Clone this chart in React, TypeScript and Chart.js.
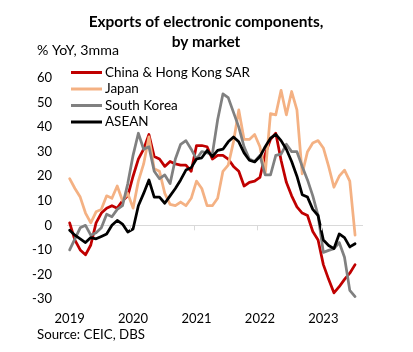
import React, { useEffect, useRef } from 'react';
import { Chart, registerables } from 'chart.js';

Chart.register(...registerables);

// ---------- data ----------
const years = ['2019', '2020', '2021', '2022', '2023'];
const monthNames = ['Jan', 'Feb', 'Mar', 'Apr', 'May', 'Jun', 'Jul', 'Aug', 'Sep', 'Oct', 'Nov', 'Dec'];
// Jan 2019 – Aug 2023 (Aug 2023 slot has no data)
const categories: string[] = [];
years.forEach((y) => monthNames.forEach((m) => categories.push(`${m} ${y}`)));
const axisCategories = categories.slice(0, 56);

const chinaHK = [
  1, -6, -10, -12, -8, 1, 5, 7, 8, 7, 10, 12,
  20, 27, 31, 37, 28, 27, 24, 26, 25, 24.5, 24.5, 22,
  32.5, 32.5, 32, 27, 28.5, 28.5, 27, 24, 22, 16, 17.5, 18,
  19.5, 29, 35, 37.5, 26.5, 17.5, 12, 7.5, 5, 4, -2.5, -6,
  -16, -22, -27.5, -25, -22, -19.5, -16,
];
const japan = [
  19, 15, 11.5, 5, 1, 5.5, 6.5, 12, 11, 16, 10, 13,
  7, 18, 25, 36, 23, 22, 13, 8.5, 8, 9.5, 8, 11,
  18, 15, 8, 8, 11, 22, 24.5, 34, 47, 35, 35, 37,
  32, 21, 45.5, 45, 55, 45, 54.5, 47, 21, 30, 33.5, 34.5,
  31.5, 24, 15.5, 20, 22.5, 18, -4,
];
const southKorea = [
  -10, -5.5, -1, 0, -4, -3, -1, 4.5, 3.5, 6.5, 8, 17,
  28.5, 37.5, 31, 32, 22, 19, 20.5, 17, 27, 33, 34.5, 31,
  27, 30, 29.5, 29, 43, 53.5, 52, 46, 40, 32, 27, 26,
  28.5, 20.5, 20.5, 28.5, 29, 33, 30, 30, 24, 18.5, 12, 4,
  -11, -10.2, -9.5, -7, -13, -26.5, -29,
];
const asean = [
  -2, -4, -5.5, -7, -5, -5.5, -4.5, -3.5, 0, 2, 0.5, -2.7,
  -1.5, 8, 13, 18.5, 11.5, 11.5, 9, 12, 15, 18.5, 22.5, 23.5,
  27, 27.5, 30.5, 28, 30.5, 31, 34, 36, 34, 29.5, 26.5, 25.8,
  28, 32, 35.5, 37, 34.5, 31, 26, 20, 12.5, 11.5, 6.5, 4,
  -6, -8.2, -9.5, -3.5, -5, -8.8, -7.5,
];

const seriesNames = ['China & Hong Kong SAR', 'Japan', 'South Korea', 'ASEAN'];
const seriesValues = [chinaHK, japan, southKorea, asean];

const titleLines = ['Exports of electronic components,', 'by market'];
const unitLabel = '% YoY, 3mma';
const sourceLabel = 'Source: CEIC, DBS';

// ---------- styles ----------
const FONT = 'Lato, "Noto Sans", sans-serif';
const COLORS = ['#C00000', '#F4B183', '#808080', '#000000'];
const LINE_W = 2.75;

function fitSize(ctx: CanvasRenderingContext2D, text: string, weight: string, target: number) {
  ctx.font = `${weight} 100px ${FONT}`;
  const w = ctx.measureText(text).width;
  return (100 * target) / w;
}

const decor = {
  id: 'decor',
  afterDraw(chart: any) {
    const ctx: CanvasRenderingContext2D = chart.ctx;
    const xs = chart.scales.x;
    const ys = chart.scales.y;
    ctx.save();

    // small tick marks on zero line at year boundaries
    const zeroY = ys.getPixelForValue(0);
    ctx.strokeStyle = '#D9D9D9';
    ctx.lineWidth = 1;
    for (let i = 12; i < axisCategories.length; i += 12) {
      const bx = Math.round((xs.getPixelForValue(i - 1) + xs.getPixelForValue(i)) / 2) + 0.5;
      ctx.beginPath();
      ctx.moveTo(bx, zeroY);
      ctx.lineTo(bx, zeroY + 5);
      ctx.stroke();
    }

    ctx.fillStyle = '#000';
    ctx.textBaseline = 'middle';

    // title
    const ts = fitSize(ctx, titleLines[0], 'bold', 235);
    ctx.font = `bold ${ts}px ${FONT}`;
    ctx.textAlign = 'center';
    ctx.fillText(titleLines[0], 206, 22);
    ctx.fillText(titleLines[1], 206, 42);

    // unit label
    const us = fitSize(ctx, unitLabel, 'normal', 82);
    ctx.font = `normal ${us}px ${FONT}`;
    ctx.textAlign = 'left';
    ctx.fillText(unitLabel, 37, 50);

    // legend
    const ls = fitSize(ctx, seriesNames[0], 'normal', 145);
    const rowsY = [72.5, 89, 105.5, 122];
    seriesNames.forEach((name, i) => {
      ctx.strokeStyle = COLORS[i];
      ctx.lineWidth = 3;
      ctx.beginPath();
      ctx.moveTo(71, rowsY[i]);
      ctx.lineTo(102, rowsY[i]);
      ctx.stroke();
      ctx.font = `normal ${ls}px ${FONT}`;
      ctx.fillStyle = '#000';
      ctx.fillText(name, 105, rowsY[i]);
    });

    // source
    const ss = fitSize(ctx, sourceLabel, 'normal', 108);
    ctx.font = `normal ${ss}px ${FONT}`;
    ctx.fillText(sourceLabel, 37, 335);

    ctx.restore();
  },
};

export default function App() {
  const ref = useRef<HTMLCanvasElement>(null);
  useEffect(() => {
    const canvas = ref.current!;
    const chart = new Chart(canvas, {
      type: 'line',
      data: {
        labels: axisCategories,
        datasets: seriesNames.map((name, i) => ({
          label: name,
          data: seriesValues[i],
          borderColor: COLORS[i],
          backgroundColor: COLORS[i],
          borderWidth: LINE_W,
          pointRadius: 0,
          tension: 0,
          borderJoinStyle: 'round' as const,
          borderCapStyle: 'round' as const,
          order: 4 - i,
          fill: false,
        })),
      },
      options: {
        responsive: false,
        animation: false,
        devicePixelRatio: 1,
        events: [],
        layout: { padding: { left: 0, top: 78, right: 50, bottom: 23 } },
        plugins: {
          legend: { display: false },
          title: { display: false },
          tooltip: { enabled: false },
        },
        scales: {
          x: {
            type: 'category',
            offset: true,
            grid: { display: false },
            border: { display: false },
            ticks: {
              autoSkip: false,
              maxRotation: 0,
              minRotation: 0,
              padding: 4,
              color: '#000',
              font: { family: FONT, size: 13 },
              callback: (_v: any, i: number) => (i % 12 === 0 ? years[i / 12] : ''),
            },
            afterFit: (s: any) => {
              s.height = 30;
            },
          },
          y: {
            min: -30,
            max: 60,
            ticks: {
              stepSize: 10,
              padding: 15,
              color: '#000',
              font: { family: FONT, size: 13 },
            },
            grid: {
              drawTicks: false,
              lineWidth: 1,
              color: (c: any) => (c.tick && c.tick.value === 0 ? '#D9D9D9' : 'rgba(0,0,0,0)'),
            },
            border: { display: false },
            afterFit: (s: any) => {
              s.width = 67;
            },
          },
        },
      },
      plugins: [decor],
    });
    return () => chart.destroy();
  }, []);

  return (
    <div style={{ position: 'absolute', left: 0, top: 0, width: 413, height: 352, background: '#fff' }}>
      <canvas ref={ref} width={413} height={352} style={{ display: 'block' }} />
    </div>
  );
}
